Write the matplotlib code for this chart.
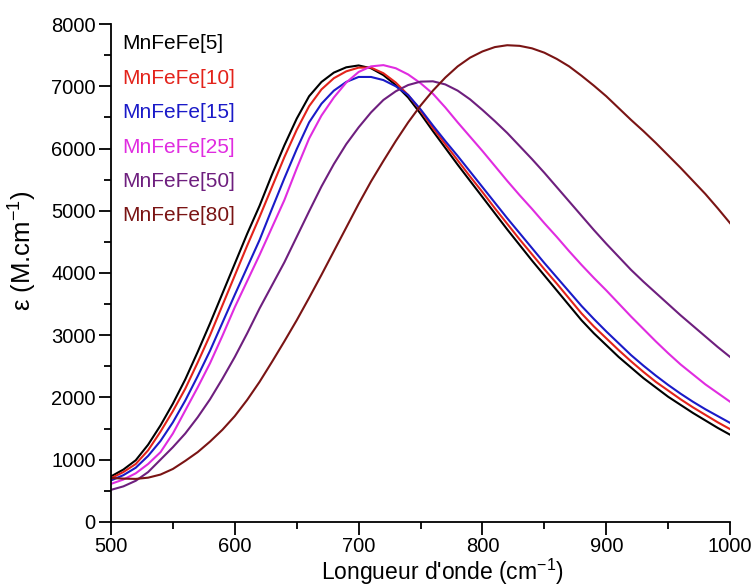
import matplotlib
matplotlib.use("Agg")
import matplotlib.pyplot as plt
from matplotlib.ticker import MultipleLocator

plt.rcParams['font.family'] = ['Liberation Sans', 'DejaVu Sans']

wavelength = list(range(500, 1001, 10))

eps_5 = [730, 840, 990, 1240, 1550, 1900, 2290, 2730, 3190, 3670,
         4150, 4630, 5080, 5580, 6050, 6480, 6840, 7070, 7220, 7305,
         7335, 7290, 7180, 7020, 6820, 6560, 6280, 6010, 5740, 5480,
         5220, 4960, 4700, 4450, 4200, 3960, 3720, 3480, 3240, 3030,
         2840, 2650, 2480, 2310, 2160, 2010, 1880, 1750, 1630, 1510,
         1400]
eps_10 = [700, 800, 930, 1150, 1450, 1780, 2140, 2560, 3000, 3480,
          3960, 4440, 4900, 5380, 5860, 6300, 6680, 6950, 7130, 7240,
          7300, 7300, 7210, 7060, 6860, 6610, 6330, 6070, 5810, 5550,
          5300, 5040, 4790, 4540, 4300, 4060, 3830, 3590, 3350, 3140,
          2950, 2760, 2580, 2410, 2250, 2110, 1970, 1840, 1720, 1600,
          1490]
eps_15 = [665, 750, 870, 1060, 1300, 1600, 1950, 2340, 2750, 3200,
          3650, 4090, 4530, 5030, 5520, 5990, 6420, 6720, 6930, 7070,
          7150, 7150, 7100, 7000, 6860, 6630, 6370, 6120, 5880, 5630,
          5380, 5130, 4880, 4640, 4400, 4160, 3930, 3700, 3470, 3260,
          3060, 2870, 2680, 2510, 2350, 2200, 2060, 1930, 1810, 1700,
          1590]
eps_25 = [610, 680, 780, 930, 1120, 1420, 1790, 2160, 2550, 2990,
          3450, 3870, 4290, 4730, 5170, 5680, 6160, 6530, 6820, 7060,
          7230, 7320, 7340, 7290, 7190, 7050, 6880, 6660, 6420, 6190,
          5960, 5720, 5480, 5250, 5030, 4800, 4580, 4350, 4130, 3920,
          3720, 3510, 3300, 3100, 2900, 2710, 2530, 2370, 2210, 2070,
          1930]
eps_50 = [514, 570, 660, 800, 1000, 1200, 1420, 1680, 1970, 2300,
          2650, 3030, 3430, 3800, 4170, 4580, 4990, 5390, 5750, 6070,
          6340, 6580, 6780, 6920, 7020, 7075, 7080, 7030, 6930, 6790,
          6620, 6440, 6250, 6040, 5830, 5610, 5380, 5150, 4920, 4690,
          4470, 4260, 4050, 3860, 3680, 3500, 3320, 3150, 2980, 2810,
          2650]
eps_80 = [705, 695, 690, 710, 760, 850, 980, 1120, 1290, 1480,
          1700, 1960, 2250, 2570, 2900, 3240, 3600, 3970, 4350, 4730,
          5110, 5470, 5800, 6120, 6420, 6690, 6930, 7140, 7320, 7460,
          7560, 7630, 7660, 7650, 7610, 7540, 7440, 7320, 7170, 7010,
          6840, 6650, 6460, 6280, 6090, 5890, 5690, 5480, 5270, 5040,
          4800]

labels = ['MnFeFe[5]', 'MnFeFe[10]', 'MnFeFe[15]', 'MnFeFe[25]', 'MnFeFe[50]', 'MnFeFe[80]']
colors = ['#000000', '#e3231b', '#1a1ac8', '#e02ce0', '#6e1f7e', '#7a1414']
series = [eps_5, eps_10, eps_15, eps_25, eps_50, eps_80]

fig = plt.figure(figsize=(7.55, 5.87), dpi=100)
ax = fig.add_axes([0.147, 0.111, 0.820, 0.848])

for y, c in zip(series, colors):
    ax.plot(wavelength, y, color=c, lw=1.5)

# legend drawn as coloured text only
for i, (lab, c) in enumerate(zip(labels, colors)):
    ax.text(0.018, 0.96 - i * 0.069, lab, color=c, fontsize=15,
            transform=ax.transAxes, va='center', ha='left')

ax.set_xlim(500, 1000)
ax.set_ylim(0, 8000)
ax.xaxis.set_major_locator(MultipleLocator(100))
ax.xaxis.set_minor_locator(MultipleLocator(50))
ax.yaxis.set_major_locator(MultipleLocator(1000))
ax.yaxis.set_minor_locator(MultipleLocator(500))

for s in ['top', 'right']:
    ax.spines[s].set_visible(False)
for s in ['left', 'bottom']:
    ax.spines[s].set_linewidth(1.3)

ax.tick_params(which='major', direction='out', length=9, width=1.3, labelsize=14.5, pad=2)
ax.tick_params(which='minor', direction='out', length=5, width=1.3)

ax.set_xlabel("Longueur d'onde (cm$^{\\mathregular{-1}}$)", fontsize=16.5)
ax.xaxis.set_label_coords(0.536, -0.070)
ax.set_ylabel("ε (M.cm$^{\\mathregular{-1}}$)", fontsize=18.5)
ax.yaxis.set_label_coords(-0.118, 0.544)

fig.savefig('out.png', dpi=100)
